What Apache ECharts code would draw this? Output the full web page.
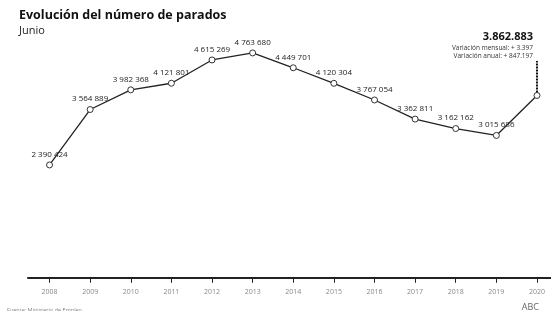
<!DOCTYPE html>
<html>
<head>
<meta charset="utf-8">
<script src="https://cdn.jsdelivr.net/npm/echarts@6/dist/echarts.min.js"></script>
<style>html,body{margin:0;padding:0;background:#fff}#c{width:551px;height:311px}</style>
</head>
<body>
<div id="c"></div>
<script>
const years = [2008, 2009, 2010, 2011, 2012, 2013, 2014, 2015, 2016, 2017, 2018, 2019, 2020];
const parados = [2390424, 3564889, 3982368, 4121801, 4615269, 4763680, 4449701, 4120304, 3767054, 3362811, 3162162, 3015686, 3862883];
const titleText = 'Evolución del número de parados';
const subtitleText = 'Junio';
const lastValueText = '3.862.883';
const mensualText = 'Variación mensual: + 3.397';
const anualText = 'Variación anual: + 847.197';
const sourceText = 'Fuente: Ministerio de Empleo';
const brandText = 'ABC';

const fmt = v => String(v).replace(/\B(?=(\d{3})+(?!\d))/g, ' ');
const FONT = '"Open Sans", "Noto Sans", sans-serif';

const chart = echarts.init(document.getElementById('c'), null, {renderer: 'canvas'});
chart.setOption({
  animation: false,
  backgroundColor: '#fff',
  textStyle: {fontFamily: FONT},
  title: [
    {text: titleText, left: 14, top: 4, textStyle: {fontSize: 12.5, fontWeight: 'bold', color: '#111', fontFamily: FONT}},
    {text: subtitleText, left: 14, top: 20, textStyle: {fontSize: 11, fontWeight: 'normal', color: '#222', fontFamily: FONT}},
    {text: lastValueText, right: 13, top: 26, textStyle: {fontSize: 11, fontWeight: 'bold', color: '#111', fontFamily: FONT}},
    {text: mensualText, right: 13, top: 40, textStyle: {fontSize: 6.5, fontWeight: 'normal', color: '#333', fontFamily: FONT}},
    {text: anualText, right: 13, top: 48, textStyle: {fontSize: 6.5, fontWeight: 'normal', color: '#333', fontFamily: FONT}},
    {text: sourceText, left: 2, top: 302, textStyle: {fontSize: 5.5, fontWeight: 'normal', color: '#888', fontFamily: FONT}},
    {text: brandText, right: 7, top: 298, textStyle: {fontSize: 9, fontWeight: 'normal', color: '#666', fontFamily: FONT}}
  ],
  grid: {left: 28, right: 0, top: 30, bottom: 29},
  xAxis: {
    type: 'value',
    min: 2007.47,
    max: 2020.345,
    splitLine: {show: false},
    axisLine: {show: true, lineStyle: {color: '#222', width: 2}},
    axisTick: {show: true, customValues: years, length: 5, lineStyle: {color: '#222', width: 1}},
    axisLabel: {show: true, customValues: years, fontSize: 7, color: '#888', margin: 6, fontFamily: FONT, formatter: v => String(v)}
  },
  yAxis: {
    type: 'value',
    min: -90000,
    max: 5250000,
    show: false,
    splitLine: {show: false}
  },
  series: [{
    type: 'line',
    data: years.map((y, i) => [y, parados[i]]),
    symbol: 'circle',
    symbolSize: 6,
    itemStyle: {color: '#fff', borderColor: '#333', borderWidth: 1},
    lineStyle: {color: '#222', width: 1.3},
    label: {
      show: true,
      position: 'top',
      distance: 3,
      fontSize: 8,
      color: '#222',
      fontFamily: FONT,
      formatter: p => (p.dataIndex === parados.length - 1 ? '' : fmt(p.value[1]))
    },
    z: 3
  }]
});

const last = chart.convertToPixel({gridIndex: 0}, [years[years.length - 1], parados[parados.length - 1]]);
chart.setOption({
  graphic: [{
    type: 'line',
    shape: {x1: last[0], y1: last[1] - 3, x2: last[0], y2: 61},
    style: {stroke: '#111', lineWidth: 2, lineDash: [2, 1]},
    z: 2
  }]
});
</script>
</body>
</html>
